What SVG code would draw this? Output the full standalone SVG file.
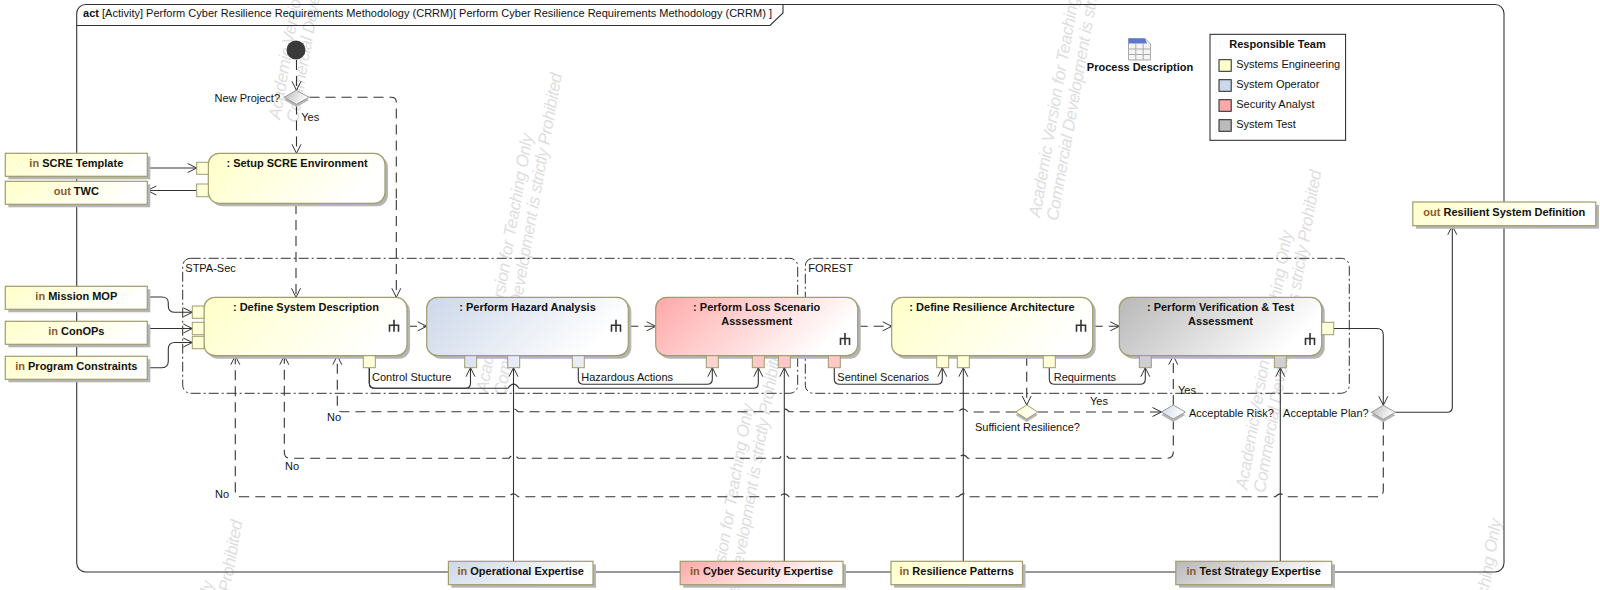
<svg xmlns="http://www.w3.org/2000/svg" width="1600" height="590" viewBox="0 0 1600 590">
<style>
text{font-family:"Liberation Sans",Arial,sans-serif;font-size:11px;fill:#111}
.b{font-weight:bold}
.m{text-anchor:middle}
.e{text-anchor:end}
.kw{fill:#8a5a2b;font-weight:bold}
.wm{font-size:17px;font-style:italic;fill:#dedede}
.sh{fill:#b5b5b5;stroke:none}
.nb{stroke:#a09c6e;stroke-width:1.2}
.pin{stroke:#a09c6e;stroke-width:1}
.c{fill:none;stroke:#333;stroke-width:1.1}
.d{stroke-dasharray:10 6}
.a{marker-end:url(#arr)}
.grp{fill:none;stroke:#333;stroke-width:1;stroke-dasharray:10 3 2 3}
.ic{fill:none;stroke:#333;stroke-width:1.6}
</style>
<defs>
<linearGradient id="gy" x1="0" y1="0" x2="1" y2="0.3"><stop offset="0" stop-color="#ffffc8"/><stop offset="1" stop-color="#ffffff"/></linearGradient>
<linearGradient id="gb" x1="0" y1="0" x2="1" y2="0.3"><stop offset="0" stop-color="#ccd7e9"/><stop offset="1" stop-color="#ffffff"/></linearGradient>
<linearGradient id="gr" x1="0" y1="0" x2="1" y2="0.3"><stop offset="0" stop-color="#ffa8a8"/><stop offset="1" stop-color="#ffffff"/></linearGradient>
<linearGradient id="gg" x1="0" y1="0" x2="1" y2="0.3"><stop offset="0" stop-color="#b8b8b8"/><stop offset="1" stop-color="#ffffff"/></linearGradient>
<marker id="arr" markerUnits="userSpaceOnUse" markerWidth="12" markerHeight="12" refX="10" refY="6" orient="auto"><path d="M1,1.5 L10,6 L1,10.5" fill="none" stroke="#333" stroke-width="1"/></marker>
<path id="rake" class="ic" d="M0,-6 V6 M-4.5,6 V-0.5 H4.5 V6"/>
</defs>

<g id="watermarks">
<g transform="translate(280,120) rotate(-80)"><text class="wm" textLength="262">Academic Version for Teaching Only</text><text class="wm" y="18" textLength="327">Commercial Development is strictly Prohibited</text></g>
<g transform="translate(168,840) rotate(-80)"><text class="wm" textLength="262">Academic Version for Teaching Only</text><text class="wm" y="18" textLength="327">Commercial Development is strictly Prohibited</text></g>
<g transform="translate(487.4,393) rotate(-80)"><text class="wm" textLength="262">Academic Version for Teaching Only</text><text class="wm" y="18" textLength="327">Commercial Development is strictly Prohibited</text></g>
<g transform="translate(708,663) rotate(-80)"><text class="wm" textLength="262">Academic Version for Teaching Only</text><text class="wm" y="18" textLength="327">Commercial Development is strictly Prohibited</text></g>
<g transform="translate(1040,218) rotate(-80)"><text class="wm" textLength="262">Academic Version for Teaching Only</text><text class="wm" y="18" textLength="327">Commercial Development is strictly Prohibited</text></g>
<g transform="translate(1247,490) rotate(-80)"><text class="wm" textLength="262">Academic Version for Teaching Only</text><text class="wm" y="18" textLength="327">Commercial Development is strictly Prohibited</text></g>
<g transform="translate(1456,778) rotate(-80)"><text class="wm" textLength="262">Academic Version for Teaching Only</text></g>
</g>

<g id="frame">
<rect x="76.7" y="4.5" width="1427.3" height="567.5" rx="9" fill="none" stroke="#333" stroke-width="1.1"/>
<path d="M76.7,25.5 H770 L783,13 V4.5" fill="none" stroke="#333" stroke-width="1.1"/>
<text x="83" y="17.3" textLength="689"><tspan class="b">act</tspan> [Activity] Perform Cyber Resilience Requirements Methodology (CRRM)[ Perform Cyber Resilience Requirements Methodology (CRRM) ]</text>
</g>

<g id="groups">
<rect id="stpa" class="grp" x="182.7" y="258.3" width="615" height="135" rx="8"/>
<text x="185.3" y="271.7">STPA-Sec</text>
<rect id="forest" class="grp" x="805.3" y="258.3" width="544" height="135" rx="8"/>
<text x="808.3" y="271.7">FOREST</text>
</g>

<g id="connectors">
<path class="c d a" d="M296.5,60 V90.3"/>
<path class="c d a" d="M296.5,104.5 V153.3"/>
<path class="c d" d="M309.5,97.3 H391 Q396.3,97.3 396.3,102 V200"/>
<path class="c d a" d="M396.3,200 V297.3"/>
<path class="c d a" d="M296,204 V297.3"/>
<path class="c a" d="M147.3,168 H196.7"/>
<path class="c a" d="M196.7,190.5 H147.3"/>
<path class="c a" d="M147.3,297 H162 Q168.3,297 168.3,303 V306 Q168.3,312.3 175,312.3 H192.3"/>
<path class="c a" d="M147.3,328.5 H192.3"/>
<path class="c a" d="M147.3,367.7 H162 Q168.3,367.7 168.3,361 V349 Q168.3,342.5 175,342.5 H192.3"/>
<path class="c a" d="M369.3,367.7 V383 Q369.3,388.3 375,388.3 H465 Q470.5,388.3 470.5,383 V367.7"/>
<path class="c a" d="M369.3,367.7 V383 Q369.3,388.3 375,388.3 H508 Q513.5,380 519,388.3 H753 Q758.3,388.3 758.3,383 V367.7"/>
<path class="c a" d="M578.3,367.7 V379 Q578.3,384.3 584,384.3 H707 Q712.3,384.3 712.3,379 V367.7"/>
<path class="c a" d="M834.3,367.7 V379 Q834.3,384.3 840,384.3 H937 Q942.3,384.3 942.3,379 V367.7"/>
<path class="c a" d="M1049.3,367.7 V379 Q1049.3,384.3 1055,384.3 H1140 Q1145.3,384.3 1145.3,379 V367.7"/>
<path class="c d a" d="M407,326.3 H426.7"/>
<path class="c d a" d="M628.3,326.3 H655.7"/>
<path class="c d a" d="M857.7,326.3 H891.7"/>
<path class="c d a" d="M1092.7,326.3 H1119.3"/>
<path class="c a" d="M513.5,561.3 V367.7"/>
<path class="c a" d="M784.3,561.3 V367.7"/>
<path class="c a" d="M963.3,561.3 V367.7"/>
<path class="c a" d="M1280.3,561.3 V367.7"/>
<path class="c a" d="M1333.7,328.5 H1377 Q1383.3,328.5 1383.3,335 V405.3"/>
<path class="c a" d="M1395.3,412.3 H1447 Q1452.3,412.3 1452.3,407 V225.7"/>
<path class="c d a" d="M1026.7,355.7 V405"/>
<path class="c d a" d="M1038,412 H1161.5"/>
<path class="c d a" d="M1173.3,405 V355.7"/>
<path class="c d a" d="M1015.7,412 H968 Q963.3,406 958.5,411.7 H789 Q784.3,406 779.5,411.7 H518 Q513.5,406 509,411.7 H342 Q337.3,411.7 337.3,407 V355.7"/>
<path class="c d a" d="M1173.3,419.5 V452 Q1173.3,458.3 1167,458.3 H968 Q963.3,452 958.5,458.3 H789 Q784.3,452 779.5,458.3 H518 Q513.5,452 509,458.3 H290 Q284.3,458.3 284.3,452 V355.7"/>
<path class="c d a" d="M1383.3,419.5 V490 Q1383.3,496.7 1377,496.7 H1285 Q1280.3,491 1275.5,496.7 H968 Q963.3,491 958.5,496.7 H789 Q784.3,491 779.5,496.7 H518 Q513.5,491 509,496.7 H241 Q235.3,496.7 235.3,491 V355.7"/>
</g>
<g id="edge-labels">
<text x="301.3" y="120.7">Yes</text>
<text x="372" y="380.7">Control Stucture</text>
<text x="581.3" y="380.7">Hazardous Actions</text>
<text x="837.3" y="380.7">Sentinel Scenarios</text>
<text x="1053.7" y="380.7">Requirments</text>
<text x="1178" y="393.5">Yes</text>
<text x="1090" y="405">Yes</text>
<text x="327" y="421">No</text>
<text x="285" y="470">No</text>
<text x="215" y="498">No</text>
</g>

<g id="initial"><circle cx="296" cy="50" r="9.5" fill="#3a3a3a"/></g>
<g id="d-new-project">
<path class="sh" d="M284,100 L296.5,93 L309,100 L296.5,107Z"/>
<path d="M284,97.3 L296.5,90.3 L309,97.3 L296.5,104.3Z" fill="url(#gg)" stroke="#999" stroke-width="1"/>
<text class="e" x="280" y="102">New Project?</text>
</g>
<g id="d-sufficient">
<path class="sh" d="M1015.7,415 L1026.7,408 L1037.7,415 L1026.7,422Z"/>
<path d="M1015.7,412 L1026.7,405 L1037.7,412 L1026.7,419Z" fill="url(#gy)" stroke="#a09c6e" stroke-width="1"/>
<text x="975" y="430.7">Sufficient Resilience?</text>
</g>
<g id="d-risk">
<path class="sh" d="M1161.3,415 L1173.3,408 L1185.3,415 L1173.3,422Z"/>
<path d="M1161.3,412 L1173.3,405 L1185.3,412 L1173.3,419Z" fill="url(#gb)" stroke="#999" stroke-width="1"/>
<text x="1189" y="416.7">Acceptable Risk?</text>
</g>
<g id="d-plan">
<path class="sh" d="M1371.3,415.3 L1383.3,408.3 L1395.3,415.3 L1383.3,422.3Z"/>
<path d="M1371.3,412.3 L1383.3,405.3 L1395.3,412.3 L1383.3,419.3Z" fill="url(#gg)" stroke="#999" stroke-width="1"/>
<text class="e" x="1368.7" y="416.7">Acceptable Plan?</text>
</g>

<g id="a-setup">
<rect class="sh" x="211.3" y="156.3" width="176.7" height="50" rx="11"/>
<rect class="nb" x="208.3" y="153.3" width="176.7" height="50" rx="11" fill="url(#gy)"/>
<rect class="pin" x="196.7" y="162.3" width="11.6" height="12" fill="#ffffd8"/>
<rect class="pin" x="196.7" y="184" width="11.6" height="12.7" fill="#ffffd8"/>
<text class="b m" x="297" y="166.7">: Setup SCRE Environment</text>
</g>
<g id="a-define">
<rect class="sh" x="207" y="300.3" width="203" height="58.4" rx="11"/>
<rect class="nb" x="204" y="297.3" width="203" height="58.4" rx="11" fill="url(#gy)"/>
<rect class="pin" x="192.3" y="306" width="11.7" height="12.3" fill="#ffffd8"/>
<rect class="pin" x="192.3" y="322.3" width="11.7" height="12.4" fill="#ffffd8"/>
<rect class="pin" x="192.3" y="336.3" width="11.7" height="12.4" fill="#ffffd8"/>
<rect class="pin" x="363.3" y="355.7" width="12" height="12" fill="#ffffd8"/>
<text class="b m" x="306" y="310.7">: Define System Description</text>
<use href="#rake" x="394" y="325.7"/>
</g>
<g id="a-hazard">
<rect class="sh" x="429.7" y="300.3" width="201.6" height="58.4" rx="11"/>
<rect class="nb" x="426.7" y="297.3" width="201.6" height="58.4" rx="11" fill="url(#gb)"/>
<rect class="pin" x="464.7" y="355.7" width="12" height="12" fill="#dde4f0"/>
<rect class="pin" x="507.7" y="355.7" width="12" height="12" fill="#e8edf5"/>
<rect class="pin" x="572.3" y="355.7" width="12" height="12" fill="#e8edf5"/>
<text class="b m" x="527.5" y="310.7">: Perform Hazard Analysis</text>
<use href="#rake" x="616" y="325.7"/>
</g>
<g id="a-loss">
<rect class="sh" x="658.7" y="300.3" width="202" height="58.4" rx="11"/>
<rect class="nb" x="655.7" y="297.3" width="202" height="58.4" rx="11" fill="url(#gr)"/>
<rect class="pin" x="706.3" y="355.7" width="12" height="12" fill="#ffd2d2"/>
<rect class="pin" x="752.3" y="355.7" width="12" height="12" fill="#ffc8c8"/>
<rect class="pin" x="778.3" y="355.7" width="12" height="12" fill="#ffc8c8"/>
<rect class="pin" x="828.3" y="355.7" width="12" height="12" fill="#ffc8c8"/>
<text class="b m" x="756.7" y="310.7">: Perform Loss Scenario</text>
<text class="b m" x="756.7" y="324.7">Asssessment</text>
<use href="#rake" x="845" y="339"/>
</g>
<g id="a-resilience">
<rect class="sh" x="894.7" y="300.3" width="201" height="58.4" rx="11"/>
<rect class="nb" x="891.7" y="297.3" width="201" height="58.4" rx="11" fill="url(#gy)"/>
<rect class="pin" x="936.7" y="355.7" width="12" height="12" fill="#ffffd8"/>
<rect class="pin" x="957.3" y="355.7" width="12" height="12" fill="#ffffd8"/>
<rect class="pin" x="1043.3" y="355.7" width="12" height="12" fill="#ffffd8"/>
<text class="b m" x="992" y="310.7">: Define Resilience Architecture</text>
<use href="#rake" x="1081" y="325.7"/>
</g>
<g id="a-verify">
<rect class="sh" x="1122.3" y="300.3" width="202.4" height="58.4" rx="11"/>
<rect class="nb" x="1119.3" y="297.3" width="202.4" height="58.4" rx="11" fill="url(#gg)"/>
<rect class="pin" x="1139.3" y="355.7" width="12" height="12" fill="#cfcfcf"/>
<rect class="pin" x="1274.3" y="355.7" width="12" height="12" fill="#d0d0d0"/>
<rect class="pin" x="1321.7" y="322.3" width="12" height="12.4" fill="#ffffd8"/>
<text class="b m" x="1220.5" y="310.7">: Perform Verification &amp; Test</text>
<text class="b m" x="1220.5" y="324.7">Assessment</text>
<use href="#rake" x="1310" y="339"/>
</g>

<g id="p-scre">
<rect class="sh" x="8.3" y="156.3" width="142" height="23"/><rect class="nb" x="5.3" y="153.3" width="142" height="23" fill="url(#gy)"/>
<text class="b m" x="76.3" y="166.7"><tspan class="kw">in</tspan> SCRE Template</text>
</g>
<g id="p-twc">
<rect class="sh" x="8.3" y="184.3" width="142" height="23"/><rect class="nb" x="5.3" y="181.3" width="142" height="23" fill="url(#gy)"/>
<text class="b m" x="76.3" y="195"><tspan class="kw">out</tspan> TWC</text>
</g>
<g id="p-mission">
<rect class="sh" x="8.3" y="289.3" width="142" height="23"/><rect class="nb" x="5.3" y="286.3" width="142" height="23" fill="url(#gy)"/>
<text class="b m" x="76.3" y="300"><tspan class="kw">in</tspan> Mission MOP</text>
</g>
<g id="p-conops">
<rect class="sh" x="8.3" y="324.3" width="142" height="23"/><rect class="nb" x="5.3" y="321.3" width="142" height="23" fill="url(#gy)"/>
<text class="b m" x="76.3" y="335"><tspan class="kw">in</tspan> ConOPs</text>
</g>
<g id="p-constraints">
<rect class="sh" x="8.3" y="359.3" width="142" height="23"/><rect class="nb" x="5.3" y="356.3" width="142" height="23" fill="url(#gy)"/>
<text class="b m" x="76.3" y="370"><tspan class="kw">in</tspan> Program Constraints</text>
</g>
<g id="p-resilient">
<rect class="sh" x="1416" y="205" width="183" height="23.7"/><rect class="nb" x="1412.8" y="202" width="183" height="23.7" fill="url(#gy)"/>
<text class="b m" x="1504.3" y="216"><tspan class="kw">out</tspan> Resilient System Definition</text>
</g>
<g id="p-operational">
<rect class="sh" x="451.4" y="564.3" width="144.6" height="23.4"/><rect class="nb" x="448.4" y="561.3" width="144.6" height="23.4" fill="url(#gb)"/>
<text class="b m" x="520.7" y="575"><tspan class="kw">in</tspan> Operational Expertise</text>
</g>
<g id="p-cyber">
<rect class="sh" x="683.2" y="564.3" width="162.8" height="23.4"/><rect class="nb" x="680.2" y="561.3" width="162.8" height="23.4" fill="url(#gr)"/>
<text class="b m" x="761.6" y="575"><tspan class="kw">in</tspan> Cyber Security Expertise</text>
</g>
<g id="p-patterns">
<rect class="sh" x="894" y="564.3" width="131.5" height="23.4"/><rect class="nb" x="891" y="561.3" width="131.5" height="23.4" fill="url(#gy)"/>
<text class="b m" x="956.7" y="575"><tspan class="kw">in</tspan> Resilience Patterns</text>
</g>
<g id="p-test">
<rect class="sh" x="1179" y="564.3" width="156" height="23.4"/><rect class="nb" x="1175.8" y="561.3" width="155.9" height="23.4" fill="url(#gg)"/>
<text class="b m" x="1253.7" y="575"><tspan class="kw">in</tspan> Test Strategy Expertise</text>
</g>

<g id="process-description">
<path d="M1128.5,38.5 H1145 L1150.5,44 V60 H1128.5Z" fill="#f4f4f4" stroke="#aaa" stroke-width="1"/>
<path d="M1128.5,38.5 H1145 L1147,43.5 H1128.5Z" fill="#5b78d0"/>
<path d="M1128.5,49 H1150.5 M1128.5,54.5 H1150.5 M1135.8,43.5 V60 M1143.2,43.5 V60" stroke="#aaa" stroke-width="1" fill="none"/>
<text class="b m" x="1140" y="71.3">Process Description</text>
</g>
<g id="legend">
<rect x="1210" y="34.3" width="135.6" height="106" fill="#fff" stroke="#222" stroke-width="1"/>
<text class="b m" x="1277.5" y="47.7">Responsible Team</text>
<rect x="1219" y="59.7" width="12.2" height="11.6" fill="#ffffcc" stroke="#222"/><text x="1236.2" y="68">Systems Engineering</text>
<rect x="1219" y="79.7" width="12.2" height="11.6" fill="#ccd7e9" stroke="#222"/><text x="1236.2" y="88">System Operator</text>
<rect x="1219" y="99.7" width="12.2" height="11.6" fill="#ffa8a8" stroke="#222"/><text x="1236.2" y="108">Security Analyst</text>
<rect x="1219" y="119.7" width="12.2" height="11.6" fill="#bbbbbb" stroke="#222"/><text x="1236.2" y="128">System Test</text>
</g>
</svg>
